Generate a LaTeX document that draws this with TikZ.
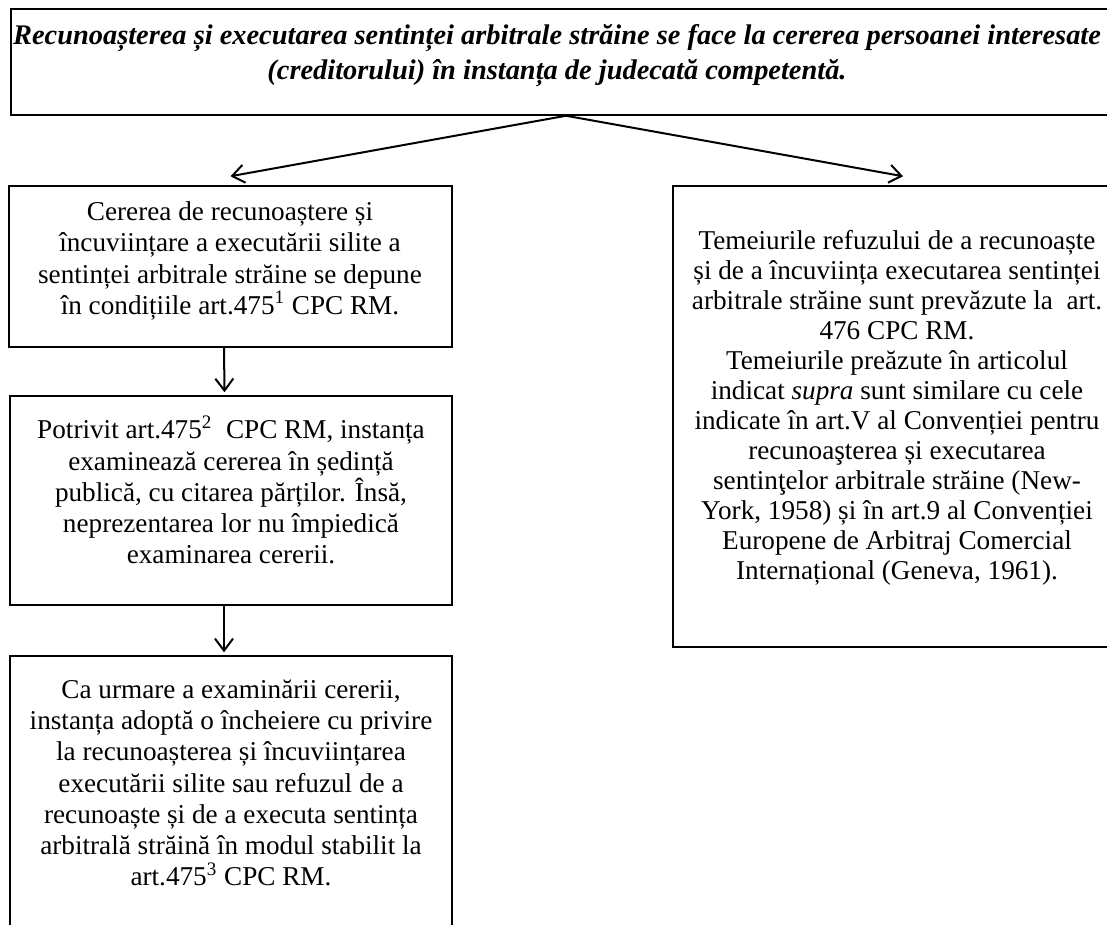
\documentclass[tikz,border=0pt]{standalone}
\usepackage{fontspec}
\setmainfont{Liberation Serif}
\usetikzlibrary{arrows.meta}
\tikzset{
  box/.style={draw, line width=0.75pt, inner sep=0pt},
  txt/.style={align=center, inner sep=0pt, font=\fontsize{13.6}{15.6}\selectfont},
  txtr/.style={align=center, inner sep=0pt, font=\fontsize{13.6}{15}\selectfont},
  ttl/.style={align=center, inner sep=0pt, font=\fontsize{14.2}{17.5}\selectfont\bfseries\itshape},
  arr/.style={line width=1pt, -{Straight Barb[length=6pt,width=9pt,line width=1pt]}}
}
\begin{document}
\begin{tikzpicture}[x=0.5pt,y=-0.5pt]
\clip (0,0) rectangle (1107,925);
\fill[white] (0,0) rectangle (1107,925);
% boxes
\node[box, minimum width=550.5pt, minimum height=53pt] (T) at (561.5,62) {};
\node[box, minimum width=221.5pt, minimum height=80.5pt] (b1) at (230.5,266.5) {};
\node[box, minimum width=221pt, minimum height=104.5pt] (b2) at (231,500.5) {};
\node[box, minimum width=221pt, minimum height=144.5pt] (b3) at (231,800.5) {};
\node[box, minimum width=224pt, minimum height=230.5pt] (R) at (897,416.5) {};
% texts
\node[ttl] (tT) at (557,56) {Recunoașterea și executarea sentinței arbitrale străine se face la cererea persoanei interesate\\(creditorului) în instanța de judecată competentă.};
\node[txt] (t1) at (230,261) {Cererea de recunoaștere și\\încuviințare a executării silite a\\sentinței arbitrale străine se depune\\în condițiile art.475\textsuperscript{1} CPC RM.};
\node[txt] (t2) at (231,490) {Potrivit art.475\textsuperscript{2}\ \ CPC RM, instanța\\examinează cererea în ședință\\publică, cu citarea părților. Însă,\\neprezentarea lor nu împiedică\\examinarea cererii.};
\node[txt] (t3) at (231,783) {Ca urmare a examinării cererii,\\instanța adoptă o încheiere cu privire\\la recunoașterea și încuviințarea\\executării silite sau refuzul de a\\recunoaște și de a executa sentința\\arbitrală străină în modul stabilit la\\art.475\textsuperscript{3} CPC RM.};
\node[txtr] (tR) at (897,408) {Temeiurile refuzului de a recunoaște\\și de a încuviința executarea sentinței\\arbitrale străine sunt prevăzute la\ \ art.\\476 CPC RM.\\Temeiurile preăzute în articolul\\indicat \textit{supra} sunt similare cu cele\\indicate în art.V al Convenției pentru\\recunoaşterea și executarea\\sentinţelor arbitrale străine (New-\\York, 1958) și în art.9 al Convenției\\Europene de Arbitraj Comercial\\Internațional (Geneva, 1961).};
% connectors
\coordinate (o) at ([xshift=2.25pt]T.south);
\draw[arr] (o) -- ([yshift=4.5pt]b1.north);
\draw[arr] (o) -- ([xshift=3pt,yshift=4.5pt]R.north);
\draw[arr] ([xshift=-3.25pt]b1.south) -- ([xshift=-3.25pt,yshift=1.5pt]b2.north);
\draw[arr] ([xshift=-3.5pt]b2.south) -- ([xshift=-3.5pt,yshift=1.5pt]b3.north);
\end{tikzpicture}
\end{document}
